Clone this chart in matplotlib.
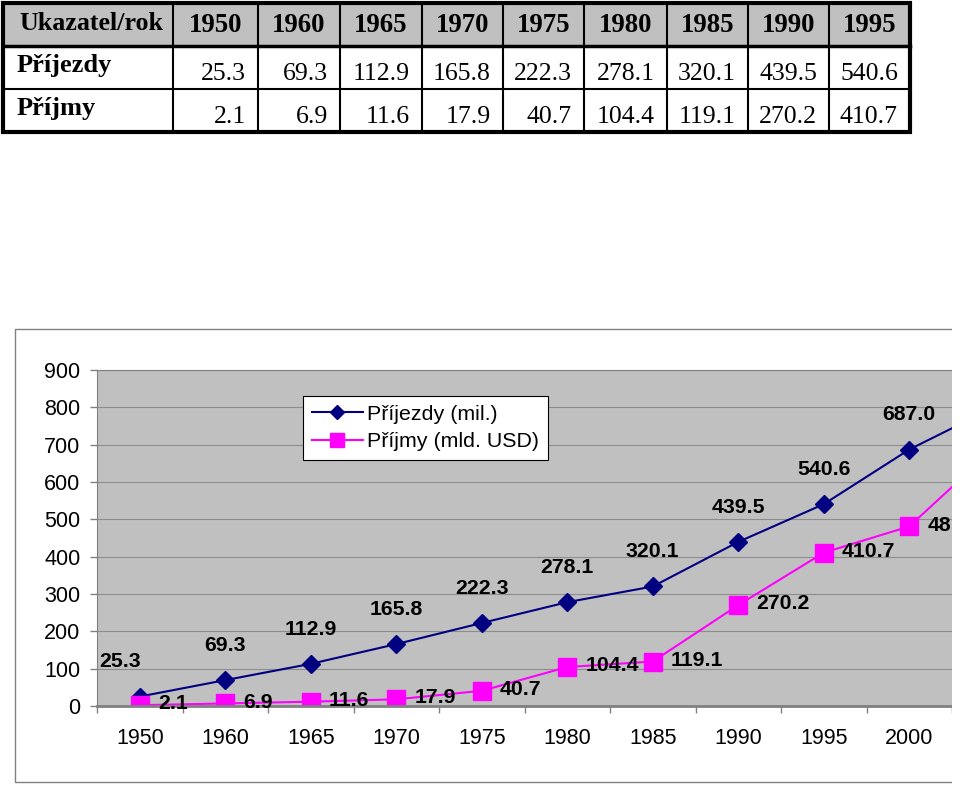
import matplotlib.pyplot as plt
from matplotlib.patches import Rectangle

# chart categories (the last one is cut off at the right edge of the picture)
years = ['1950', '1960', '1965', '1970', '1975', '1980', '1985', '1990', '1995', '2000', '2005']
arrivals = [25.3, 69.3, 112.9, 165.8, 222.3, 278.1, 320.1, 439.5, 540.6, 687.0, 801.0]
receipts = [2.1, 6.9, 11.6, 17.9, 40.7, 104.4, 119.1, 270.2, 410.7, 481.0, 692.0]

# table at the top only goes to 1995
table_head = 'Ukazatel/rok'
table_years = years[:9]
row_names = ['Příjezdy', 'Příjmy']
table_rows = [arrivals[:9], receipts[:9]]
series_names = ['Příjezdy (mil.)', 'Příjmy (mld. USD)']

W, H = 960, 786
sans = 'Liberation Sans'
serif = 'Liberation Serif'
plt.rcParams['font.family'] = [sans, 'DejaVu Sans']

fig = plt.figure(figsize=(9.6, 7.86), dpi=100)

# background layer in pixel coordinates: table + chart frame
bg = fig.add_axes([0, 0, 1, 1])
bg.set_xlim(0, W)
bg.set_ylim(H, 0)
bg.axis('off')

bg.add_patch(Rectangle((15, 329), 980, 453, fill=False, ec='#808080', lw=1))

col_x = [3, 173, 258, 340, 422, 503, 584, 667, 748, 829, 910]
row_y = [3, 46, 89, 132]
bg.add_patch(Rectangle((col_x[0], row_y[0]), col_x[-1] - col_x[0], row_y[1] - row_y[0],
                       fc='#c0c0c0', ec='none'))
for xx in col_x[1:-1]:
    bg.plot([xx, xx], [row_y[0], row_y[-1]], color='black', lw=1.5)
bg.plot([col_x[0], col_x[-1]], [row_y[1]] * 2, color='black', lw=2.5)
bg.plot([col_x[0], col_x[-1]], [row_y[2]] * 2, color='black', lw=1.5)
bg.add_patch(Rectangle((col_x[0], row_y[0]), col_x[-1] - col_x[0], row_y[-1] - row_y[0],
                       fill=False, ec='black', lw=3))

bg.text(19, 24, table_head, family=serif, fontsize=18.7, fontweight='bold', va='center', ha='left')
for j, yr in enumerate(table_years):
    cx = (col_x[j + 1] + col_x[j + 2]) / 2
    bg.text(cx, 25, yr, family=serif, fontsize=19.3, fontweight='bold', va='center', ha='center')

for r, (name, vals) in enumerate(zip(row_names, table_rows)):
    top = row_y[r + 1]
    bg.text(17, top + 26, name, family=serif, fontsize=19, fontweight='bold', va='baseline', ha='left')
    for j, v in enumerate(vals):
        bg.text(col_x[j + 2] - 12, top + 34, f'{v:.1f}', family=serif, fontsize=18.5,
                va='baseline', ha='right')

# the chart
ax = fig.add_axes([97 / W, 1 - 706 / H, (952 - 97) / W, (706 - 370) / H])
ax.set_facecolor('#c0c0c0')
x = list(range(len(years)))
ax.plot(x, arrivals, color='#000080', marker='D', ms=9.5, mew=1, lw=1.5, label=series_names[0])
ax.plot(x, receipts, color='#ff00ff', marker='s', ms=13, mew=1, lw=1.5, label=series_names[1])

ax.set_yticks(range(0, 901, 100))
ax.set_xticks(x, years)
ax.set_xticks([i - 0.5 for i in range(len(years))], minor=True)
ax.set_xlim(-0.5, 9.5)
ax.set_ylim(0, 900)
ax.tick_params(axis='x', which='major', length=0, pad=16, labelsize=15.5)
ax.tick_params(axis='x', which='minor', length=5, color='#808080', width=1)
ax.tick_params(axis='y', length=5, color='#808080', width=1, pad=7, labelsize=15.5)
ax.grid(axis='y', color='#8c8c8c', lw=0.8)
ax.set_axisbelow(True)
ax.spines['right'].set_visible(False)
ax.spines['top'].set_color('#808080')
ax.spines['left'].set_color('#808080')
ax.spines['bottom'].set_color('#808080')
ax.spines['bottom'].set_linewidth(2)

for i, v in enumerate(arrivals):
    dx = -14 if i == 0 else 0
    ax.annotate(f'{v:.1f}', (i, v), xytext=(dx, 25), textcoords='offset points',
                ha='center', va='center', fontsize=15.3, fontweight='bold')
for i, v in enumerate(receipts):
    ax.annotate(f'{v:.1f}', (i, v), xytext=(13, 1), textcoords='offset points',
                ha='left', va='center', fontsize=15.3, fontweight='bold')

leg = ax.legend(loc='upper left', bbox_to_anchor=((303 - 97) / 855, (706 - 396) / 336),
                borderaxespad=0, fontsize=15.4, fancybox=False, framealpha=1,
                edgecolor='black', handlelength=2.4, handletextpad=0.2,
                borderpad=0.4, labelspacing=0.4, markerscale=0.75)
leg.get_frame().set_linewidth(0.8)

# picture is cropped on the right
fig.add_artist(Rectangle((952 / W, 0), 8 / W, 1, transform=fig.transFigure,
                         fc='white', ec='none', zorder=10))

fig.savefig('out.png', dpi=100)
